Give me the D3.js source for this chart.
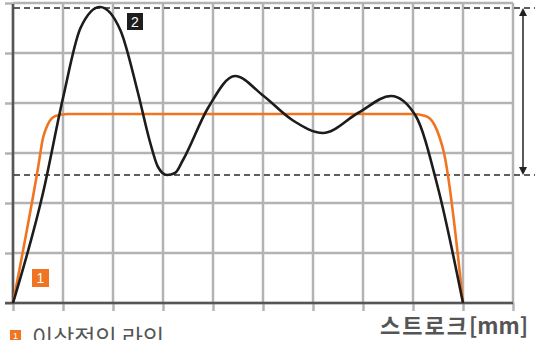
<!DOCTYPE html>
<html><head><meta charset="utf-8">
<script src="https://cdn.jsdelivr.net/npm/d3@7"></script>
<style>
html,body{margin:0;padding:0;background:#fff;overflow:hidden;}
svg{display:block;}
</style></head>
<body>
<svg id="c" width="535" height="340"></svg>
<script>
// ---- data ----
const xTicks = [0,1,2,3,4,5,6,7,8,9,10];
const yTicks = [0,1,2,3,4,5,6];
// ideal line (orange) : stroke vs load
const idealX = [0, 0.5, 0.6, 0.7, 0.85, 1.1, 8.0, 8.25, 8.42, 8.53, 8.62, 9.0];
const idealY = [0, 2.7, 3.3, 3.58, 3.74, 3.78, 3.78, 3.74, 3.58, 3.32, 3.0, 0];
// actual line (black)
const actualX = [0, 0.6, 1.0, 1.35, 1.74, 2.15, 2.5, 2.74, 2.9, 3.08, 3.24, 3.4, 3.9, 4.44, 5.0, 5.6, 6.2, 6.9, 7.56, 8.05, 8.5, 9.0];
const actualY = [0, 2.2, 4.1, 5.5, 5.92, 5.45, 4.2, 3.22, 2.72, 2.56, 2.6, 2.86, 3.9, 4.54, 4.15, 3.65, 3.4, 3.8, 4.14, 3.75, 2.3, 0];
const upperLimit = 5.9;   // top dashed
const lowerLimit = 2.56;  // lower dashed
const xLabelKo = "스트로크", xLabelUnit = "[mm]";
const legendLabel = "이상적인 라인";
const badge1 = "1", badge2 = "2";

// ---- layout ----
const svg = d3.select("#c");
const x = d3.scaleLinear().domain([0,10]).range([13,513]);
const y = d3.scaleLinear().domain([0,6]).range([303,3]);
const grid = "#b3b3b6", axisCol = "#555", orange = "#f07522", black = "#1c1c1c";

// vertical grid lines (extend below axis as ticks)
svg.append("g").attr("transform","translate(0,303)")
  .call(d3.axisBottom(x).tickValues(xTicks).tickSize(8).tickFormat(""))
  .call(g=>g.select(".domain").remove())
  .call(g=>g.selectAll("line").attr("stroke",grid).attr("stroke-width",2.5));
svg.append("g").selectAll("line").data(xTicks).join("line")
  .attr("x1",d=>x(d)).attr("x2",d=>x(d)).attr("y1",y(6)).attr("y2",y(0))
  .attr("stroke",grid).attr("stroke-width",2.5);
// horizontal grid lines (extend left as ticks)
svg.append("g").attr("transform","translate(13,0)")
  .call(d3.axisLeft(y).tickValues(yTicks).tickSize(8).tickFormat(""))
  .call(g=>g.select(".domain").remove())
  .call(g=>g.selectAll("line").attr("stroke",grid).attr("stroke-width",2.5));
svg.append("g").selectAll("line").data(yTicks).join("line")
  .attr("x1",x(0)).attr("x2",x(10)).attr("y1",d=>y(d)).attr("y2",d=>y(d))
  .attr("stroke",grid).attr("stroke-width",2.5);

// axes
svg.append("line").attr("x1",x(0)).attr("x2",x(0)).attr("y1",y(6)+1).attr("y2",y(0))
  .attr("stroke",axisCol).attr("stroke-width",2.5);
svg.append("line").attr("x1",5).attr("x2",x(10)).attr("y1",y(0)).attr("y2",y(0))
  .attr("stroke",axisCol).attr("stroke-width",2.5);

// dashed limits
[upperLimit, lowerLimit].forEach(v=>{
  svg.append("line").attr("x1",x(0)+1).attr("x2",535).attr("y1",y(v)).attr("y2",y(v))
    .attr("stroke","#2a2a2a").attr("stroke-width",1.4).attr("stroke-dasharray","6,4");
});

// double arrow
const ax = 523;
svg.append("line").attr("x1",ax).attr("x2",ax).attr("y1",y(upperLimit)+4).attr("y2",y(lowerLimit)-4)
  .attr("stroke","#222").attr("stroke-width",1.5);
svg.append("path").attr("d",`M${ax},${y(upperLimit)} l-4,8 l8,0 z`).attr("fill","#222");
svg.append("path").attr("d",`M${ax},${y(lowerLimit)} l-4,-8 l8,0 z`).attr("fill","#222");

// lines
const line = d3.line().x(d=>x(d[0])).y(d=>y(d[1])).curve(d3.curveMonotoneX);
svg.append("path").datum(d3.zip(idealX, idealY)).attr("d",line)
  .attr("fill","none").attr("stroke",orange).attr("stroke-width",2.6).attr("stroke-linejoin","round");
svg.append("path").datum(d3.zip(actualX, actualY)).attr("d",line)
  .attr("fill","none").attr("stroke",black).attr("stroke-width",2.6).attr("stroke-linejoin","round");

// badges
function badge(bx, by, w, h, fill, txt, fs){
  svg.append("rect").attr("x",bx).attr("y",by).attr("width",w).attr("height",h).attr("fill",fill);
  svg.append("text").attr("x",bx+w/2).attr("y",by+h/2).attr("dy","0.36em")
    .attr("text-anchor","middle").attr("fill","#fff")
    .style("font-family","'Liberation Sans', Arial, sans-serif").style("font-size",fs+"px").text(txt);
}
badge(127, 13, 16, 17, "#1e1e1e", badge2, 14);
badge(32, 269, 17, 18, orange, badge1, 14);
badge(10, 330, 11, 12, orange, badge1, 9);

// texts
svg.append("text").attr("x",32).attr("y",346)
  .style("font-family","'Noto Sans CJK KR', sans-serif").style("font-size","23px")
  .attr("fill","#555").text(legendLabel);
const xl = svg.append("text").attr("x",380).attr("y",334)
  .style("font-family","'Noto Sans CJK KR', sans-serif").style("font-size","22px").style("font-weight","bold")
  .attr("fill","#555");
xl.append("tspan").style("letter-spacing","2px").text(xLabelKo);
xl.append("tspan").text(xLabelUnit);
</script>
</body></html>
